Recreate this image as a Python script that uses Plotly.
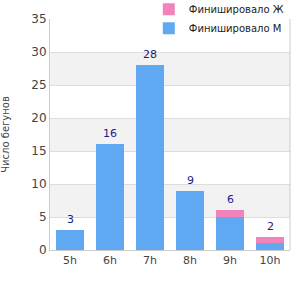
import plotly.graph_objects as go

categories = ["5h", "6h", "7h", "8h", "9h", "10h"]
male = [3, 16, 28, 9, 5, 1]
female = [0, 0, 0, 0, 1, 1]
totals = [m + f for m, f in zip(male, female)]
y_ticks = [0, 5, 10, 15, 20, 25, 30, 35]

fig = go.Figure()
fig.add_trace(go.Bar(x=categories, y=male, name="Финишировало М",
                     marker=dict(color="#60a8f2", line=dict(width=0))))
fig.add_trace(go.Bar(x=categories, y=female, name="Финишировало Ж",
                     marker=dict(color="#f284bc", line=dict(width=0))))

for c, t in zip(categories, totals):
    fig.add_annotation(x=c, y=t, text=str(t), showarrow=False, yanchor="bottom", yshift=2,
                       font=dict(color="#1a1a8a", size=11, family="DejaVu Sans"))

# alternating bands
for lo in [5, 15, 25]:
    fig.add_shape(type="rect", xref="paper", yref="y", x0=0, x1=1, y0=lo, y1=lo + 5,
                  fillcolor="#f2f2f2", line=dict(width=0), layer="below")

fig.update_layout(
    width=300, height=300,
    margin=dict(l=50, r=10, t=19, b=50, autoexpand=False),
    barmode="stack", bargap=0.28,
    plot_bgcolor="white", paper_bgcolor="white",
    font=dict(family="DejaVu Sans", size=11, color="#444"),
    showlegend=True,
    legend=dict(x=0.995, xanchor="right", y=1.105, yanchor="top",
                traceorder="reversed",
                bgcolor="white", font=dict(size=10, color="#222"),
                itemwidth=30, tracegroupgap=0),
    xaxis=dict(showline=True, linecolor="#ccc", linewidth=1, mirror=False,
               ticks="", tickfont=dict(size=11, color="#444"), fixedrange=True),
    yaxis=dict(range=[0, 35], tickvals=y_ticks, showgrid=True, gridcolor="#ddd",
               showline=True, linecolor="#ccc", zeroline=False,
               title=dict(text="Число бегунов", font=dict(size=10, color="#444"), standoff=20),
               tickfont=dict(size=12, color="#444")),
    hovermode=False,
)
fig.add_shape(type="line", xref="paper", yref="paper", x0=1, x1=1, y0=0, y1=1,
              line=dict(color="#ccc", width=1))

fig.write_html("out.html")
